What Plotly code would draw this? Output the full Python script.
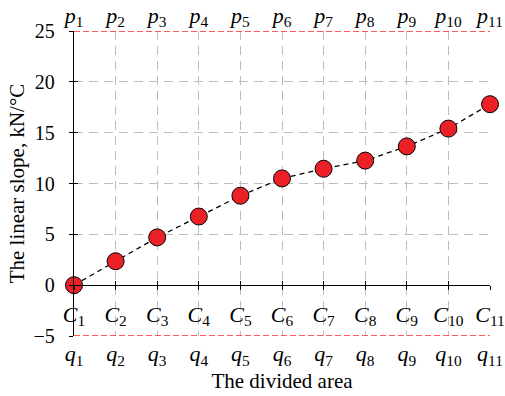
import plotly.graph_objects as go

# Divided-area index and the linear slope measured for each area
area_index = [1, 2, 3, 4, 5, 6, 7, 8, 9, 10, 11]
slope_kn_per_c = [0.0, 2.35, 4.7, 6.75, 8.8, 10.5, 11.45, 12.25, 13.65, 15.4, 17.8]

# Labels for the three rows of markers along the horizontal direction
c_labels = [f"<i>C</i><sub>{i}</sub>" for i in area_index]
p_labels = [f"<i>p</i><sub>{i}</sub>" for i in area_index]
q_labels = [f"<i>q</i><sub>{i}</sub>" for i in area_index]

y_ticks = [-5, 0, 5, 10, 15, 20, 25]
grid_ticks = [5, 10, 15, 20]
upper_bound = 25
lower_bound = -5

FONT = "Liberation Serif, Times New Roman, serif"
GRID = "#bdbdbd"

fig = go.Figure()

fig.add_trace(go.Scatter(
    x=area_index, y=slope_kn_per_c, mode="lines+markers",
    line=dict(color="black", width=1.3, dash="5px,4px"),
    marker=dict(size=17, color="#ec2127", line=dict(color="black", width=1)),
    cliponaxis=False, showlegend=False,
))
# empty traces so the overlay axes get drawn
for xa, ya in [("x2", "y"), ("x3", "y"), ("x", "y3")]:
    fig.add_trace(go.Scatter(x=[], y=[], xaxis=xa, yaxis=ya, showlegend=False,
                             hoverinfo="skip"))

# red dashed bounds along the top and bottom of the frame, on the uppermost
# overlay so nothing is painted over them
for yb in (upper_bound, lower_bound):
    fig.add_trace(go.Scatter(
        x=[area_index[0], area_index[-1]], y=[yb, yb], mode="lines",
        xaxis="x4", yaxis="y2",
        line=dict(color="#ff2424", width=1.7, dash="6px,3px"),
        cliponaxis=False, showlegend=False, hoverinfo="skip",
    ))

num_font = dict(family=FONT, size=20, color="black")
sym_font = dict(family=FONT, size=22, color="black")
xr = [area_index[0], area_index[-1]]
zero_pos = (0 - lower_bound) / (upper_bound - lower_bound)

fig.update_layout(
    width=505, height=396,
    margin=dict(l=74, r=15, t=31, b=60),
    paper_bgcolor="white", plot_bgcolor="white",
    font=dict(family=FONT, size=20, color="black"),
    xaxis=dict(
        range=xr, tickmode="array", tickvals=area_index, ticktext=q_labels,
        showgrid=True, gridcolor=GRID, griddash="9px,6px", gridwidth=1,
        showline=False, zeroline=False, ticks="", tickfont=sym_font,
        ticklabelstandoff=2, automargin=False,
        title=dict(text="The divided area", font=dict(family=FONT, size=21),
                   standoff=0),
    ),
    xaxis2=dict(
        overlaying="x", anchor="free", position=zero_pos, matches="x",
        range=xr, tickmode="array", tickvals=area_index, ticktext=c_labels,
        showgrid=False, zeroline=False, showline=True, linecolor="black",
        linewidth=1.3, ticks="outside", ticklen=4, tickcolor="black",
        tickwidth=1.3, tickfont=sym_font, ticklabelstandoff=5,
        automargin=False,
    ),
    xaxis3=dict(
        overlaying="x", side="top", anchor="y", matches="x", range=xr,
        tickmode="array", tickvals=area_index, ticktext=p_labels,
        showgrid=False, zeroline=False, showline=False, ticks="",
        tickfont=sym_font, ticklabelstandoff=3, automargin=False,
    ),
    xaxis4=dict(
        overlaying="x", anchor="free", position=zero_pos, matches="x",
        range=xr, tickmode="array", tickvals=area_index, showticklabels=False,
        showgrid=False, zeroline=False, showline=False, ticks="inside",
        ticklen=4, tickcolor="black", tickwidth=1.3, automargin=False,
    ),
    yaxis=dict(
        range=[lower_bound, upper_bound], tickmode="array", tickvals=y_ticks,
        showgrid=False, zeroline=False, showline=True, linecolor="black",
        linewidth=1.3, ticks="outside", ticklen=4, tickcolor="black",
        tickwidth=1.3, tickfont=num_font, ticklabelstandoff=10,
        automargin=False,
        title=dict(text="The linear slope, kN/°C",
                   font=dict(family=FONT, size=21), standoff=3),
    ),
    # inner tick marks on the left axis
    yaxis2=dict(
        overlaying="y", anchor="x", range=[lower_bound, upper_bound],
        tickmode="array", tickvals=y_ticks, showticklabels=False,
        showgrid=False, zeroline=False, showline=False, ticks="inside",
        ticklen=4, tickcolor="black", tickwidth=1.3, automargin=False,
    ),
    # horizontal dashed grid at the interior values
    yaxis3=dict(
        overlaying="y", anchor="x", range=[lower_bound, upper_bound],
        tickmode="array", tickvals=grid_ticks, showticklabels=False,
        showgrid=True, gridcolor=GRID, griddash="9px,6px", gridwidth=1,
        zeroline=False, showline=False, ticks="", automargin=False,
    ),
)

fig.write_html("out.html")
